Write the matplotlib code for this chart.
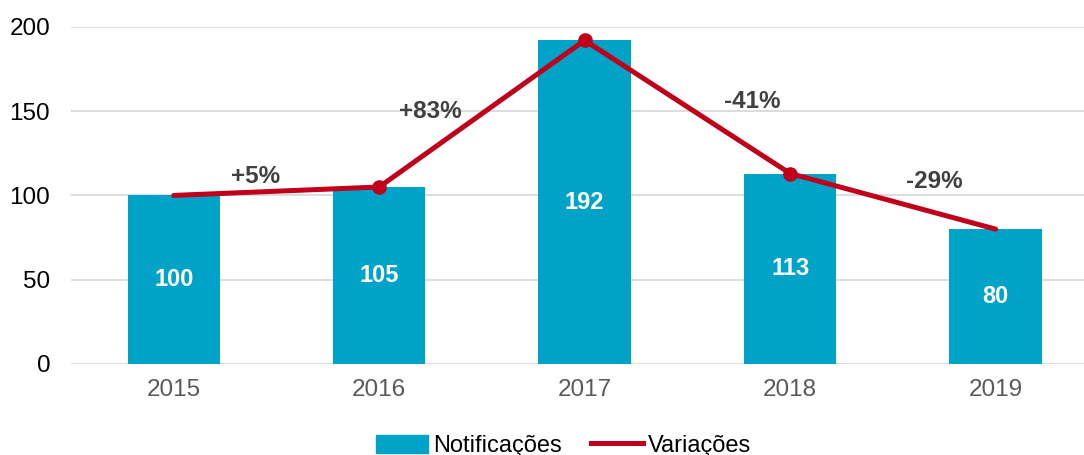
import matplotlib.pyplot as plt
from matplotlib.lines import Line2D
from matplotlib.patches import Patch

plt.rcParams["font.family"] = ["Liberation Sans", "DejaVu Sans"]

# data
years = ["2015", "2016", "2017", "2018", "2019"]
notificacoes = [100, 105, 192, 113, 80]
variacoes = ["+5%", "+83%", "-41%", "-29%"]

# positions of the percentage labels (x in category units, y in data units)
var_x = [0.40, 1.25, 2.815, 3.70]
var_y = [111, 149.5, 155.5, 108]

bar_color = "#00A3C8"
line_color = "#C0001A"

fig = plt.figure(figsize=(10.84, 4.55), dpi=100)
ax = fig.add_axes([71 / 1084, 0.2, 1 - 71 / 1084, 0.741])

x = list(range(len(years)))
ax.bar(x, notificacoes, width=0.45, color=bar_color, zorder=2)
ax.plot(x, notificacoes, color=line_color, lw=3.6, marker="o", ms=9.5,
        markevery=[1, 2, 3], solid_capstyle="round", zorder=3)

for xi, v in zip(x, notificacoes):
    ax.text(xi, v / 2, str(v), ha="center", va="center", color="white",
            fontsize=17, fontweight="bold", zorder=4)

for xi, yi, t in zip(var_x, var_y, variacoes):
    ax.text(xi, yi, t, ha="center", va="center", color="#404040",
            fontsize=17.5, fontweight="bold", zorder=4)

ax.set_xlim(-0.5, 4.43)
ax.set_ylim(0, 200)
ax.set_yticks([0, 50, 100, 150, 200])
ax.set_xticks(x)
ax.set_xticklabels(years)
ax.tick_params(axis="y", length=0, labelsize=17.5, pad=15, labelcolor="black")
ax.tick_params(axis="x", length=0, labelsize=17.5, pad=11, labelcolor="#595959")
ax.grid(axis="y", color="#D9D9D9", lw=1.3, zorder=0)
ax.set_axisbelow(True)
for s in ax.spines.values():
    s.set_visible(False)

handles = [Patch(color=bar_color, label="Notificações"),
           Line2D([0], [0], color=line_color, lw=3.6, label="Variações")]
fig.legend(handles=handles, loc="center", bbox_to_anchor=(0.52, 0.02),
           ncol=2, frameon=False, fontsize=17, handlelength=2.2,
           handleheight=0.8, handletextpad=0.2, columnspacing=1.25,
           borderpad=0, borderaxespad=0)

fig.savefig("out.png", dpi=100)
